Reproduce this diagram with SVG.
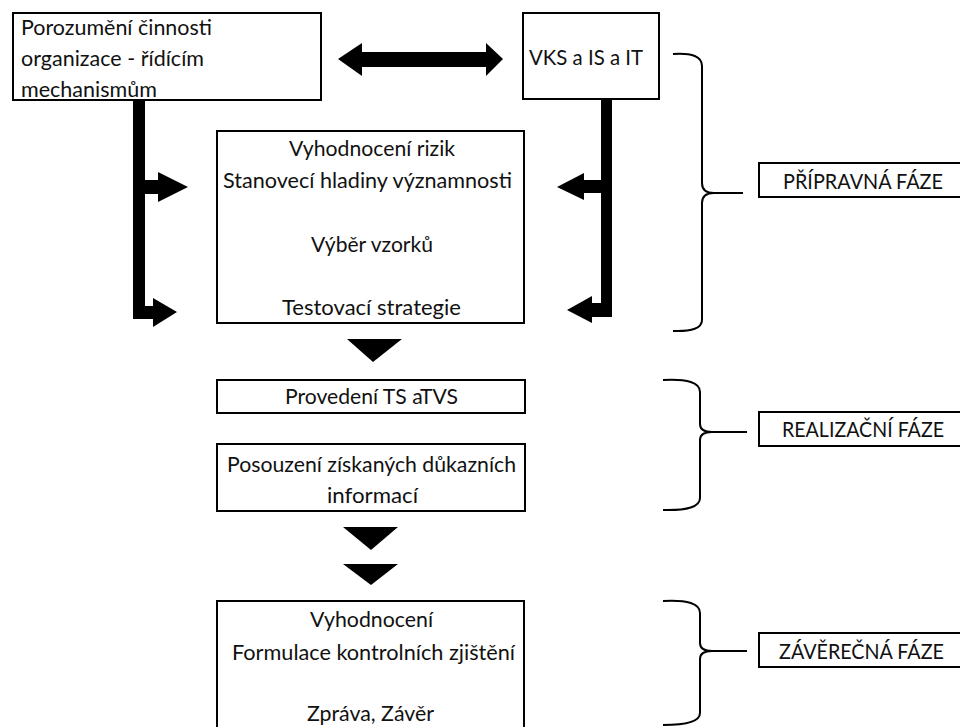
<svg xmlns="http://www.w3.org/2000/svg" width="960" height="727" viewBox="0 0 960 727">
<style>
  .box { fill: #fff; stroke: #000; stroke-width: 2; }
  .t { font-family: Lato, "Open Sans", "Liberation Sans", sans-serif; font-size: 20.5px; fill: #111; }
  .arrow { fill: #000; stroke: none; }
  .brace { fill: none; stroke: #000; stroke-width: 2; }
</style>
<rect width="960" height="727" fill="#fff"/>

<g id="connectors">
  <polygon class="arrow" points="338,59 362,43 362,52 486,52 486,43 503,59 486,76 486,67 362,67 362,76"/>
  <polygon class="arrow" points="133,100 145,100 145,180 158,180 158,172 188,187 158,202 158,194 145,194 145,306 153,306 153,298 177,312 153,327 153,319 133,319"/>
  <polygon class="arrow" points="601,99 612,99 612,317 592,317 592,323 567,310 592,296 592,303 601,303 601,193 584,193 584,200 557,187 584,173 584,180 601,180"/>
  <polygon class="arrow" points="347,339 402,339 373,362"/>
  <polygon class="arrow" points="343,527 398,527 371,550"/>
  <polygon class="arrow" points="343,564 398,564 371,585"/>
  <path class="brace" d="M673,54 Q702,52 702,66 L702,183 Q702,193 714,193 L743,193 M714,193 Q702,193 702,203 L702,320 Q702,332 673,331"/>
  <path class="brace" d="M663,380 Q700,378 700,392 L700,424 Q700,432 712,432 L747,432 M712,432 Q700,432 700,440 L700,498 Q700,511 663,510"/>
  <path class="brace" d="M663,601 Q700,599 700,613 L700,643 Q700,651 712,651 L747,651 M712,651 Q700,651 700,659 L700,713 Q700,725 663,725"/>
</g>

<g id="n-porozumeni">
  <rect class="box" x="13" y="13" width="308" height="87"/>
  <text class="t" x="21" y="35" textLength="191" lengthAdjust="spacingAndGlyphs">Porozumění činnosti</text>
  <text class="t" x="21" y="66" textLength="183" lengthAdjust="spacingAndGlyphs">organizace - řídícím</text>
  <text class="t" x="21" y="97" textLength="136" lengthAdjust="spacingAndGlyphs">mechanismům</text>
</g>

<g id="n-vks">
  <rect class="box" x="523" y="13" width="136" height="86"/>
  <text class="t" x="529" y="65" textLength="114" lengthAdjust="spacingAndGlyphs">VKS a IS a IT</text>
</g>

<g id="n-vyhodnoceni-rizik">
  <rect class="box" x="217" y="131" width="307" height="192"/>
  <text class="t" x="289" y="156" textLength="166" lengthAdjust="spacingAndGlyphs">Vyhodnocení rizik</text>
  <text class="t" x="223" y="188" textLength="289" lengthAdjust="spacingAndGlyphs">Stanovecí hladiny významnosti</text>
  <text class="t" x="311" y="252" textLength="122" lengthAdjust="spacingAndGlyphs">Výběr vzorků</text>
  <text class="t" x="282" y="315" textLength="179" lengthAdjust="spacingAndGlyphs">Testovací strategie</text>
</g>

<g id="n-provedeni">
  <rect class="box" x="217" y="380" width="308" height="33"/>
  <text class="t" x="285" y="404" textLength="173" lengthAdjust="spacingAndGlyphs">Provedení TS aTVS</text>
</g>

<g id="n-posouzeni">
  <rect class="box" x="217" y="444" width="308" height="67"/>
  <text class="t" x="227" y="472" textLength="289" lengthAdjust="spacingAndGlyphs">Posouzení získaných důkazních</text>
  <text class="t" x="327" y="503" textLength="91" lengthAdjust="spacingAndGlyphs">informací</text>
</g>

<g id="n-zaver">
  <rect class="box" x="217" y="601" width="307" height="140"/>
  <text class="t" x="310" y="627" textLength="123" lengthAdjust="spacingAndGlyphs">Vyhodnocení</text>
  <text class="t" x="232" y="660" textLength="283" lengthAdjust="spacingAndGlyphs">Formulace kontrolních zjištění</text>
  <text class="t" x="307" y="721" textLength="127" lengthAdjust="spacingAndGlyphs">Zpráva, Závěr</text>
</g>

<g id="n-pripravna">
  <rect class="box" x="759" y="163" width="210" height="34"/>
  <text class="t" x="783" y="189" textLength="160" lengthAdjust="spacingAndGlyphs">PŘÍPRAVNÁ FÁZE</text>
</g>

<g id="n-realizacni">
  <rect class="box" x="759" y="412" width="210" height="34"/>
  <text class="t" x="782" y="437" textLength="162" lengthAdjust="spacingAndGlyphs">REALIZAČNÍ FÁZE</text>
</g>

<g id="n-zaverecna">
  <rect class="box" x="759" y="633" width="210" height="34"/>
  <text class="t" x="779" y="659" textLength="165" lengthAdjust="spacingAndGlyphs">ZÁVĚREČNÁ FÁZE</text>
</g>
</svg>
